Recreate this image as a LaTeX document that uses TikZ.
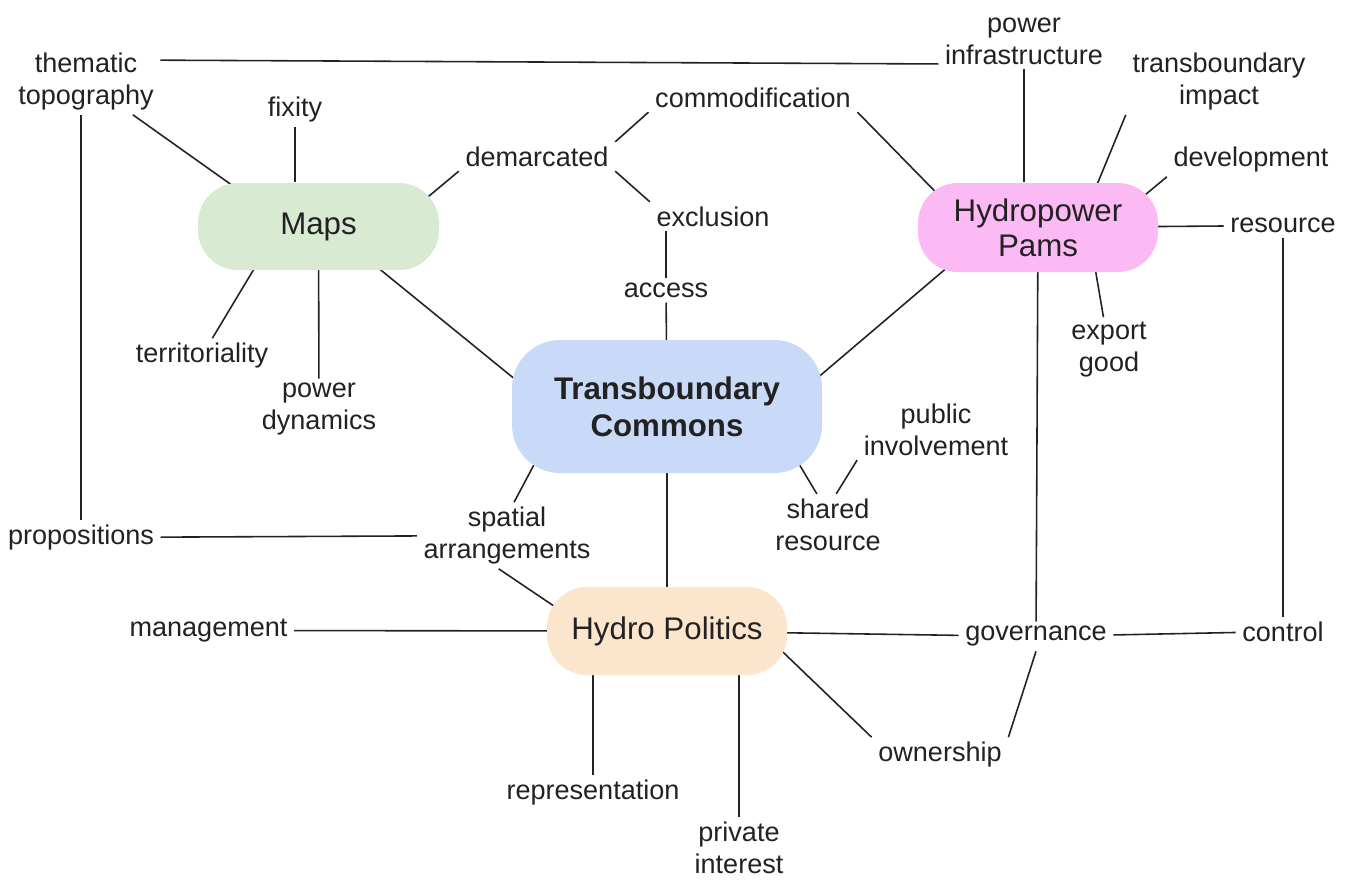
\documentclass[tikz,border=0pt]{standalone}
\usepackage{fontspec}
\setmainfont{Liberation Sans}
\usepackage{tikz}
\usetikzlibrary{backgrounds}

\definecolor{mapsgreen}{RGB}{217,234,211}
\definecolor{commonsblue}{RGB}{201,218,248}
\definecolor{hydropink}{RGB}{252,186,244}
\definecolor{politicspeach}{RGB}{252,229,205}
\definecolor{ink}{RGB}{34,34,34}

\begin{document}
\begin{tikzpicture}

\tikzstyle{every node} = [text=ink]
\tikzstyle{term} = [rectangle, inner xsep=0.06cm, inner ysep=0.04cm, yshift=-0.025cm, align=center, font=\fontsize{7.7pt}{9.1pt}\selectfont]
\tikzstyle{hub} = [rectangle, rounded corners=0.4cm, minimum width=2.4cm, minimum height=0.88cm, align=center, font=\fontsize{8.9pt}{10pt}\selectfont]
\tikzstyle{link} = [draw=ink, line width=0.45pt]
\tikzstyle{tohub} = [shorten >=-0.22cm]
\tikzstyle{fromhub} = [shorten <=-0.22cm]

\useasboundingbox (0,0) rectangle (13.63,8.79);

% the four hubs
\node[hub, fill=mapsgreen, minimum width=2.41cm, minimum height=0.87cm] (mp) at (3.185,6.525) {Maps};
\node[hub, fill=commonsblue, minimum width=3.1cm, minimum height=1.33cm, rounded corners=0.48cm, font=\fontsize{8.9pt}{10.5pt}\selectfont\bfseries] (tc) at (6.67,4.725) {Transboundary\\Commons};
\node[hub, fill=hydropink, minimum height=0.89cm] (hp) at (10.38,6.515) {Hydropower\\Pams};
\node[hub, fill=politicspeach] (hpo) at (6.67,2.48) {Hydro Politics};

% terms
\node[term] (tt) at (0.86,8.00) {thematic\\topography};
\node[term] (fx) at (2.95,7.72) {fixity};
\node[term] (dm) at (5.37,7.25) {demarcated};
\node[term] (cm) at (7.53,7.84) {commodification};
\node[term] (ex) at (7.13,6.65) {exclusion};
\node[term] (ac) at (6.66,5.91) {access};
\node[term] (pwi) at (10.24,8.405) {power\\infrastructure};
\node[term] (ti) at (12.19,8.00) {transboundary\\impact};
\node[term] (dv) at (12.51,7.22) {development};
\node[term] (rs) at (12.83,6.56) {resource};
\node[term] (eg) at (11.09,5.32) {export\\good};
\node[term] (tr) at (2.02,5.26) {territoriality};
\node[term] (pd) at (3.19,4.72) {power\\dynamics};
\node[term] (pin) at (9.36,4.52) {public\\involvement};
\node[term] (sr) at (8.28,3.57) {shared\\resource};
\node[term] (sa) at (5.07,3.46) {spatial\\arrangements};
\node[term] (pr) at (0.81,3.44) {propositions};
\node[term] (mg) at (2.085,2.51) {management};
\node[term] (gv) at (10.36,2.45) {governance};
\node[term] (ct) at (12.83,2.50) {control};
\node[term] (ow) at (9.40,1.27) {ownership};
\node[term] (rp) at (5.93,0.89) {representation};
\node[term] (pvi) at (7.39,0.34) {private\\interest};

\begin{scope}[on background layer]
\draw[link] (tt.16) -- (pwi.195);
\draw[link, tohub] (tt) -- (mp.154);
\draw[link] (tt.south -| pr) -- (pr);
\draw[link] (fx) -- (fx |- mp.north);
\draw[link, tohub] (dm.south west) -- (mp.18);
\draw[link] (dm.north east) -- (cm.south west);
\draw[link] (dm.south east) -- (ex.north west);
\draw[link] (ex.south -| ac) -- (ac);
\draw[link, tohub] (ac) -- (tc);
\draw[link, tohub] (cm.south east) -- (hp.158);
\draw[link, tohub, fromhub] (mp.-35) -- (tc.169);
\draw[link, fromhub] (mp.-146) -- (tr);
\draw[link, fromhub] (mp) -- (pd);
\draw[link, tohub, fromhub] (hp.-155) -- (tc.12);
\draw[link] (pwi.south) -- (pwi.south |- hp.north);
\draw[link, tohub] (ti.south west) -- (hp.37);
\draw[link, tohub] (dv.south west) -- (hp.20);
\draw[link, fromhub] (hp) -- (rs);
\draw[link, fromhub] (hp.-38) -- (eg);
\draw[link] (rs) -- (ct);
\draw[link, fromhub] (hp) -- (gv);
\draw[link, fromhub] (tc.-154) -- (sa.78);
\draw[link, tohub, fromhub] (tc) -- (hpo);
\draw[link, fromhub] (tc.-26) -- (sr.110);
\draw[link] (sr.75) -- (pin.south west);
\draw[link] (pr) -- (sa);
\draw[link, tohub] (sa.-104) -- (hpo.166);
\draw[link, tohub] (mg) -- (hpo);
\draw[link, fromhub] (hpo) -- (gv);
\draw[link] (gv) -- (ct);
\draw[link, fromhub] (hpo.south -| rp) -- (rp);
\draw[link, fromhub] (hpo.south -| pvi) -- (pvi);
\draw[link, fromhub] (hpo.-12) -- (ow.north west);
\draw[link] (gv.south) -- (ow.north east);
\end{scope}
\end{tikzpicture}
\end{document}
